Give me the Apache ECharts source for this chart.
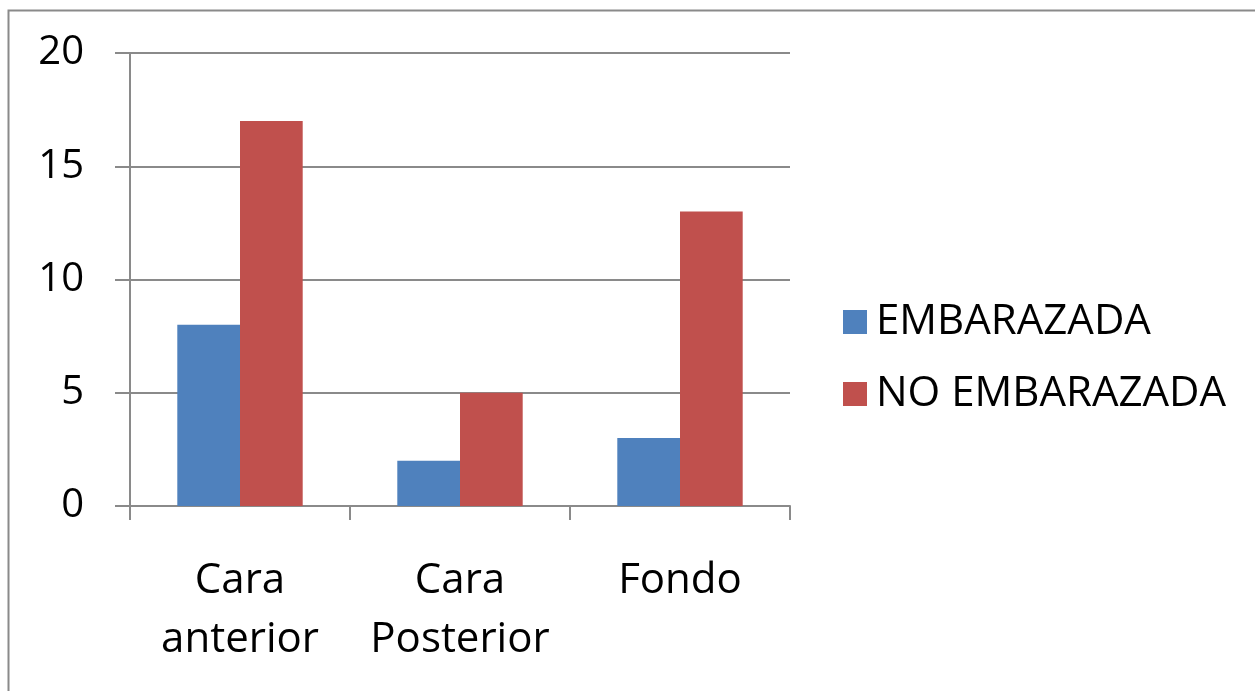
<!DOCTYPE html>
<html><head><meta charset="utf-8">
<script src="https://cdn.jsdelivr.net/npm/echarts@6/dist/echarts.min.js"></script>
<style>html,body{margin:0;padding:0;background:#fff}#c{width:1255px;height:691px}</style>
</head><body><div id="c"></div>
<script>
const categories = ['Cara\nanterior', 'Cara\nPosterior', 'Fondo'];
const seriesNames = ['EMBARAZADA', 'NO EMBARAZADA'];
const embarazada = [8, 2, 3];
const noEmbarazada = [17, 5, 13];
const yTicks = { min: 0, max: 20, interval: 5 };

const FONT = 'Open Sans';
const chart = echarts.init(document.getElementById('c'), null, { renderer: 'canvas' });
chart.setOption({
  animation: false,
  backgroundColor: '#fff',
  textStyle: { fontFamily: FONT },
  graphic: [{
    type: 'polyline', shape: { points: [[8.5, 700], [8.5, 10.5], [1260, 10.5]] },
    style: { fill: 'none', stroke: '#8a8a8a', lineWidth: 2 }, silent: true, z: -1
  }],
  grid: { left: 130, top: 53, width: 660, height: 453, containLabel: false },
  legend: {
    orient: 'vertical', left: 838, top: 296, itemWidth: 24, itemHeight: 24, itemGap: 30, icon: 'rect',
    textStyle: { fontFamily: FONT, fontSize: 42, color: '#000', padding: [0, 0, 0, 4] },
    data: seriesNames
  },
  xAxis: {
    type: 'category', data: categories,
    axisLine: { lineStyle: { color: '#8a8a8a', width: 2 } },
    axisTick: { show: true, interval: 0, length: 14, lineStyle: { color: '#8a8a8a', width: 2 } },
    axisLabel: { interval: 0, hideOverlap: false, fontFamily: FONT, fontSize: 42, color: '#000', margin: 46, lineHeight: 59 }
  },
  yAxis: {
    type: 'value', min: yTicks.min, max: yTicks.max, interval: yTicks.interval,
    axisLine: { show: true, lineStyle: { color: '#8a8a8a', width: 2 } },
    axisTick: { show: true, length: 15, lineStyle: { color: '#8a8a8a', width: 2 } },
    splitLine: { lineStyle: { color: '#8a8a8a', width: 2 } },
    axisLabel: { fontFamily: FONT, fontSize: 40, color: '#000', margin: 46 }
  },
  series: [
    { name: seriesNames[0], type: 'bar', data: embarazada, itemStyle: { color: '#4F81BD' }, barGap: '0%', barCategoryGap: '43%' },
    { name: seriesNames[1], type: 'bar', data: noEmbarazada, itemStyle: { color: '#C0504D' }, barGap: '0%', barCategoryGap: '43%' }
  ]
});
</script></body></html>
